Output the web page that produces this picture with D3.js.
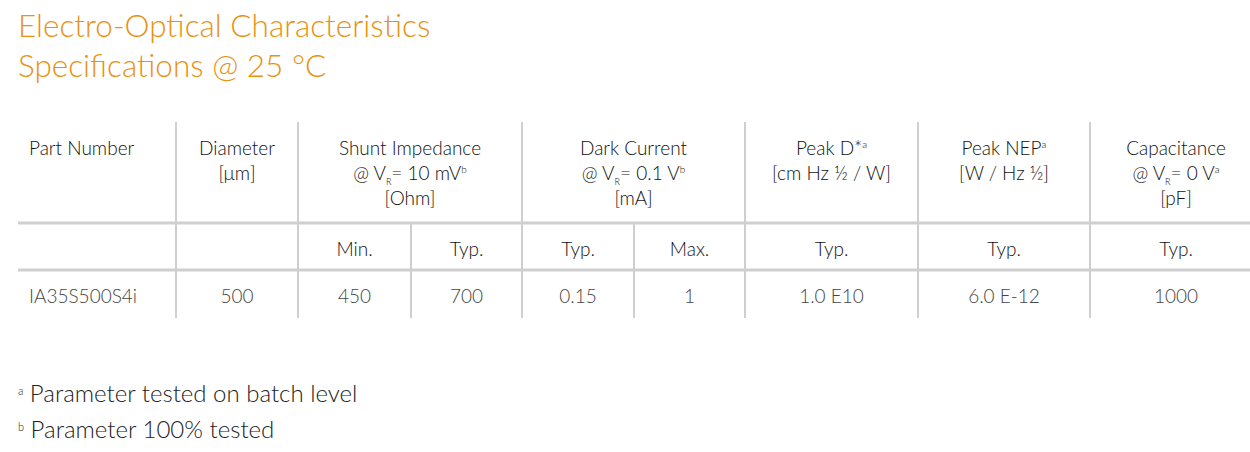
<!DOCTYPE html>
<html><head><meta charset="utf-8">
<script src="https://cdn.jsdelivr.net/npm/d3@7"></script>
<style>body{margin:0;background:#fff}text{font-family:Lato,"Open Sans",sans-serif}</style>
</head><body><div id="vis"></div>
<script>
const TITLE = ["Electro-Optical Characteristics", "Specifications @ 25 °C"];
// header lines per group: [text, sub, sup] segments
const GROUPS = [
  {lines: [[["Part Number"]]], span: 1},
  {lines: [[["Diameter"]], [["[μm]"]]], span: 1},
  {lines: [[["Shunt Impedance"]], [["@ V"], ["R", "sub"], ["= 10 mV"], ["b", "sup"]], [["[Ohm]"]]], span: 2},
  {lines: [[["Dark Current"]], [["@ V"], ["R", "sub"], ["= 0.1 V"], ["b", "sup"]], [["[mA]"]]], span: 2},
  {lines: [[["Peak D*"], ["a", "sup"]], [["[cm Hz ½ / W]"]]], span: 1},
  {lines: [[["Peak NEP"], ["a", "sup"]], [["[W / Hz ½]"]]], span: 1},
  {lines: [[["Capacitance"]], [["@ V"], ["R", "sub"], ["= 0 V"], ["a", "sup"]], [["[pF]"]]], span: 1}
];
const SUBHEAD = ["", "", "Min.", "Typ.", "Typ.", "Max.", "Typ.", "Typ.", "Typ."];
const ROW = ["IA35S500S4i", "500", "450", "700", "0.15", "1", "1.0 E10", "6.0 E-12", "1000"];
const FOOTNOTES = [["a", " Parameter tested on batch level"], ["b", " Parameter 100% tested"]];

// layout: column edges (pixels)
const EDGES = [18, 176, 298, 411, 522, 634, 745, 918, 1090, 1262];
const ORANGE = "#e8920f", LINE = "#cfcfcf";

const svg = d3.select("#vis").append("svg").attr("width", 1250).attr("height", 452);

svg.selectAll(".title").data(TITLE).enter().append("text")
  .attr("x", 18).attr("y", (d, i) => 37 + i * 40)
  .attr("fill", ORANGE).attr("font-size", 31.5).attr("font-weight", 300).text(d => d);

// horizontal rules
[223, 270].forEach(y => svg.append("line").attr("x1", 18).attr("x2", 1250)
  .attr("y1", y).attr("y2", y).attr("stroke", LINE).attr("stroke-width", 3));

// group vertical lines and header text
let col = 0;
GROUPS.forEach((g, gi) => {
  const x0 = EDGES[col], x1 = EDGES[col + g.span];
  if (gi > 0) svg.append("line").attr("x1", x0).attr("x2", x0).attr("y1", 122).attr("y2", 318)
    .attr("stroke", LINE).attr("stroke-width", 2);
  const cx = gi === 0 ? x0 + 11 : (x0 + x1) / 2;
  g.lines.forEach((segs, li) => {
    const t = svg.append("text").attr("x", cx).attr("y", 155 + li * 25)
      .attr("text-anchor", gi === 0 ? "start" : "middle")
      .attr("font-size", 19).attr("font-weight", 300).attr("fill", "#111");
    segs.forEach((s, si) => {
      const ts = t.append("tspan").text(s[0]);
      if (s[1] === "sub") ts.attr("font-size", 9).attr("dy", 5);
      else if (s[1] === "sup") ts.attr("font-size", 10).attr("dy", -7);
      else if (si > 0 && segs[si - 1][1] === "sub") ts.attr("dy", -5);
    });
  });
  col += g.span;
});

// sub-column lines in lower rows
[3, 5].forEach(i => svg.append("line").attr("x1", EDGES[i]).attr("x2", EDGES[i])
  .attr("y1", 224).attr("y2", 318).attr("stroke", LINE).attr("stroke-width", 2));

const centre = i => i === 0 ? EDGES[0] + 11 : (EDGES[i] + EDGES[i + 1]) / 2;
svg.selectAll(".sub").data(SUBHEAD).enter().append("text")
  .attr("x", (d, i) => centre(i)).attr("y", 256).attr("text-anchor", "middle")
  .attr("font-size", 19).attr("font-weight", 300).attr("fill", "#111").text(d => d);
svg.selectAll(".row").data(ROW).enter().append("text")
  .attr("x", (d, i) => centre(i)).attr("y", 303)
  .attr("text-anchor", (d, i) => i === 0 ? "start" : "middle")
  .attr("font-size", 19).attr("font-weight", 300).attr("fill", "#444").text(d => d);

FOOTNOTES.forEach((f, i) => {
  const t = svg.append("text").attr("x", 18).attr("y", 402 + i * 36)
    .attr("font-size", 24).attr("font-weight", 300).attr("fill", "#222");
  t.append("tspan").attr("font-size", 11).attr("dy", -7).text(f[0]);
  t.append("tspan").attr("dy", 7).text(f[1]);
});
</script></body></html>
